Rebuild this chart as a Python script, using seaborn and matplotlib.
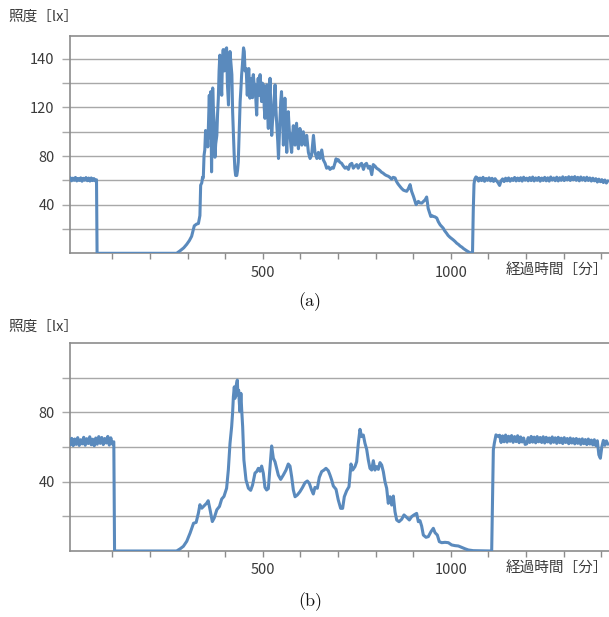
import numpy as np
import pandas as pd
import matplotlib
matplotlib.use("Agg")
import matplotlib.pyplot as plt
import seaborn as sns

# ---------------- data (a) ----------------
A_START_X = [-12, -8.5, -5, -1.5, 2, 5.5, 9, 12.5, 16, 19.5, 23, 26.5, 30, 33.5, 37, 40.5, 44,
             47.5, 51, 54.5, 58]
A_START_Y = [62.2, 59.6, 61.8, 60.0, 62.4, 59.5, 61.6, 59.9, 62.1, 59.3, 61.7, 60.1, 62.3, 59.7,
             61.9, 59.4, 62.0, 59.8, 61.5, 59.6, 60.5]

A_DAY_X = [59.5, 271, 280, 290, 298, 305, 311, 315, 318, 324, 329, 333, 335, 338, 340, 342, 344, 346,
           348, 350, 352, 354, 356, 358, 360, 362, 364, 366, 367, 369, 371, 373, 375, 378, 380, 382,
           384, 386, 388, 391, 393, 395, 398, 400, 402, 404, 406, 409, 411, 413, 415, 418, 420, 422,
           424, 426, 428, 431, 433, 435, 437, 440, 442, 444, 446, 449, 451, 453, 456, 459, 461, 463,
           466, 468, 471, 473, 475, 477, 480, 482, 484, 486, 488, 491, 493, 495, 497, 499, 502, 504,
           506, 508, 511, 513, 515, 517, 519.5, 522, 524, 526, 528, 530, 533, 535, 537, 540, 542, 544,
           546, 548, 550, 553, 555, 557, 559, 561, 564, 566, 568, 571, 573, 575, 577, 579, 581.5, 584,
           586, 588, 590, 592, 595, 597, 599, 602, 604, 608, 613, 617, 621.5, 626, 630, 635, 639, 644,
           648, 652, 657, 661, 666, 670, 675, 679, 684, 688, 692, 695, 698, 701, 705, 710, 714, 719,
           723, 728, 732, 737, 741, 745, 750, 754, 759, 763, 768, 772, 776, 781, 785, 790, 794, 799,
           803, 808, 812, 816, 820, 825, 829, 834, 838, 843, 847, 852, 856, 860, 865, 869, 874, 878,
           883, 887, 892, 896, 901, 905, 908, 911, 914, 918, 923, 927, 932, 936, 938, 940, 944, 947,
           950, 954, 958, 963, 967, 972, 976, 980, 984, 989, 993, 998, 1003, 1007, 1012, 1016, 1021,
           1025, 1030, 1034, 1038, 1042, 1047, 1051, 1056, 1058, 1060, 1062, 1064, 1067]
A_DAY_Y = [0, 0, 2, 4.5, 7.4, 10.5, 14, 19, 22.6, 24, 24.5, 31, 56, 58, 62.6, 62, 80.6, 85,
           101, 92, 100, 87.5, 110, 130, 95, 133, 67, 110, 136, 118, 108, 79, 90, 97, 115, 127.6,
           150, 163, 145, 130, 160, 167.6, 150, 155, 168, 169, 140, 122, 150, 166, 158, 147, 116.5, 100,
           82, 69.6, 64, 64, 68, 75, 95, 124.8, 135, 147, 155, 169, 166, 150, 152, 130, 145, 152,
           127.6, 140, 144, 128, 147, 140, 138.6, 125, 113.7, 135, 144, 130, 147, 135, 124.8, 140, 138.6, 120,
           111, 130, 138.6, 115, 102.7, 125, 144, 115, 97, 108, 113.7, 125, 138.6, 120, 108, 92, 78, 95,
           111, 125, 133, 110, 89, 105, 127.6, 105, 83, 100, 116.5, 100, 97, 88, 83, 95, 105, 95,
           89, 100, 107, 95, 86, 95, 102.7, 95, 89, 100, 89, 97, 83, 78, 80.6, 97, 83, 78,
           83, 78, 85, 77, 74, 70, 71, 69, 70.5, 70, 74, 77.7, 76, 77, 75, 74, 72, 70,
           71, 69, 73, 74, 70, 71.6, 73, 70, 73, 74, 69, 73, 74, 70, 71.6, 64.7, 73, 71.6,
           70, 69, 68, 66.7, 66, 64.7, 64, 63.4, 62.5, 61, 62.5, 62, 59, 57, 55, 53.5, 52, 51.5,
           51, 53, 56.5, 51, 46.8, 43, 40, 41.5, 42.7, 41.5, 41.3, 42.5, 44, 46.3, 42, 37, 33, 30.3,
           31, 30.3, 30, 29, 26, 23.4, 22, 20.7, 18.5, 16.5, 14.7, 13.2, 12, 11, 9.6, 8.3, 7.2,
           6, 5, 3.9, 3, 2.2, 1.3, 0.5, 0.3, 0.3, 35, 57, 61, 62.8]

A_END_X = [1070, 1074, 1078, 1082, 1086, 1090, 1094, 1098, 1102, 1106,
           1110, 1114, 1118, 1122, 1126, 1130, 1134, 1138, 1142, 1146,
           1150, 1154, 1158, 1162, 1166, 1170, 1174, 1178, 1182, 1186,
           1190, 1194, 1198, 1202, 1206, 1210, 1214, 1218, 1222, 1226,
           1230, 1234, 1238, 1242, 1246, 1250, 1254, 1258, 1262, 1266,
           1270, 1274, 1278, 1282, 1286, 1290, 1294, 1298, 1302, 1306,
           1310, 1314, 1318, 1322, 1326, 1330, 1334, 1338, 1342, 1346,
           1350, 1354, 1358, 1362, 1366, 1370, 1374, 1378, 1382, 1386,
           1390, 1394, 1398, 1402, 1406, 1410, 1414, 1418]
A_END_Y = [62.3, 59.4, 61.9, 59.8, 62.5, 59.2, 61.6, 60.0, 62.1, 59.5,
           61.7, 59.1, 61.4, 59.6, 58.0, 55.8, 59.6, 61.2, 59.0, 61.8,
           59.6, 62.0, 59.3, 61.5, 59.9, 62.4, 59.5, 61.9, 59.7, 62.2,
           59.4, 62.6, 60.1, 61.8, 59.6, 62.3, 59.8, 62.7, 59.5, 62.0,
           60.0, 62.4, 59.3, 61.9, 59.9, 62.5, 59.6, 62.1, 59.4, 62.8,
           60.2, 62.0, 59.7, 62.6, 59.5, 62.2, 60.0, 62.9, 59.8, 62.4,
           60.3, 63.0, 59.9, 62.7, 60.4, 63.1, 60.0, 62.5, 59.6, 62.8,
           60.2, 62.3, 59.7, 62.6, 59.9, 62.0, 59.4, 61.8, 59.6, 61.4,
           58.6, 61.0, 58.9, 60.6, 58.2, 60.3, 57.8, 59.6]

# ---------------- data (b) ----------------
B_START_X = [-12, -8, -4, 0, 4, 8, 12, 16, 20, 24,
             28, 32, 36, 40, 44, 48, 52, 56, 60, 64,
             68, 72, 76, 80, 84, 88, 92, 96, 100, 104]
B_START_Y = [61.2, 65.0, 60.8, 64.6, 61.5, 65.4, 60.9, 64.2, 61.8, 65.6,
             61.0, 64.8, 62.0, 65.9, 61.3, 64.5, 60.7, 65.2, 61.6, 66.0,
             62.1, 65.5, 61.4, 64.9, 62.3, 66.1, 61.1, 65.3, 61.7, 63.0]

B_DAY_X = [106, 271, 280, 289, 298, 307, 316, 323, 329, 333, 338, 344, 351, 355, 360, 366, 371, 378,
           385, 391, 397, 404, 408.6, 413, 417.4, 420, 422, 424.5, 426, 428, 430, 432.5, 434, 436,
           438, 439.6, 442, 444, 446.7, 450, 455.6, 462, 468, 473, 479.5, 484, 488.4, 492.8, 497.2,
           501.7, 506, 510.5, 515, 519.4, 523.8, 528.3, 532.7, 537, 541.5, 547.8, 554.8, 562, 568,
           572.6, 577, 581.5, 586, 592, 599, 606, 612.5, 618.7, 624, 630, 634.6, 639, 645.3, 650.6,
           656.8, 663, 668.3, 674.5, 679, 683.4, 687.8, 695, 701, 707.3, 712.6, 717, 723.3, 729.5,
           734.8, 739.2, 745.4, 749.9, 754.3, 758.7, 763.2, 767.6, 772, 776.5, 780.9, 785.3, 789.8,
           794.2, 798.6, 803, 807.5, 811.9, 816.4, 820.8, 825.2, 829.7, 834, 838.5, 843, 847.4, 851.8,
           856.3, 862.5, 869.6, 875.8, 882.9, 890, 896, 902.3, 909.4, 913.9, 918.3, 922.7, 927.2,
           934.3, 940.5, 947.6, 953.8, 958.2, 964.4, 969.7, 976, 984.8, 993.7, 1002.5, 1011.4, 1020.3,
           1029.1, 1038, 1046.9, 1060, 1109, 1112, 1113.4, 1116, 1120.4, 1126.6]
B_DAY_Y = [0, 0, 1.2, 2.7, 5.6, 10.4, 16, 16.5, 21.9, 26.7, 24.7, 26, 27.6, 29, 23.8, 17, 19, 23.8,
           25.7, 30, 31.5, 36.2, 46.8, 62, 71.7, 80, 89, 94.7, 88, 91, 96, 98.6, 90, 92.8,
           85, 80.4, 91, 82, 71.7, 52.5, 41, 36.2, 35, 38, 45, 45.8, 47.7, 46, 49,
           44.8, 36.7, 35.2, 36, 48.7, 60.6, 53.5, 51.5, 47.7, 43.8, 41.3, 43.8, 46.7, 50.2,
           49, 42.9, 35.2, 31.3, 32.3, 34.2, 36.7, 39.4, 40.4, 39, 35.2, 32.9, 36.7, 36.2, 42.5,
           45.8, 46.7, 47.7, 46.3, 43.8, 41, 37.5, 35.6, 29.4, 24.6, 24.6, 31.3, 34.8, 37.1,
           50.2, 46.7, 48.7, 51.5, 62.1, 70.2, 66, 66.9, 62.1, 58.7, 52.5, 47.7, 46.7,
           52.1, 46.7, 48.7, 47.1, 51, 49.6, 45.8, 40, 36.2, 27.5, 31.3, 26.5, 31.7, 22.7,
           17.9, 16.9, 18.3, 20.8, 19.4, 17.9, 19.8, 20.8, 21.7, 16.9, 17.5, 14.4, 9.2,
           7.9, 8.3, 11.2, 13.1, 10.6, 9.2, 5.4, 4.8, 5, 4.8, 3.5, 3.1, 2.9,
           2.1, 1.3, 0.6, 0.2, 0, 40, 58.3, 62.1, 67, 66]

B_END_X = [1130, 1134, 1138, 1142, 1146, 1150, 1154, 1158, 1162, 1166,
           1170, 1174, 1178, 1182, 1186, 1190, 1194, 1198, 1202, 1206,
           1210, 1214, 1218, 1222, 1226, 1230, 1234, 1238, 1242, 1246,
           1250, 1254, 1258, 1262, 1266, 1270, 1274, 1278, 1282, 1286,
           1290, 1294, 1298, 1302, 1306, 1310, 1314, 1318, 1322, 1326,
           1330, 1334, 1338, 1342, 1346, 1350, 1354, 1358, 1362, 1366,
           1370, 1374, 1378, 1382, 1386, 1390, 1394, 1398, 1402, 1406,
           1410, 1414, 1418]
B_END_Y = [66.8, 62.6, 66.4, 63.0, 66.9, 62.8, 66.2, 63.3, 66.6, 62.7,
           66.0, 63.1, 66.5, 62.5, 65.8, 62.9, 65.2, 61.5, 61.8, 65.4,
           62.6, 66.1, 62.8, 65.7, 62.4, 66.0, 63.0, 65.5, 62.6, 65.9,
           62.3, 65.6, 62.9, 65.2, 62.2, 65.8, 62.7, 65.3, 62.1, 65.6,
           62.5, 65.1, 62.0, 65.4, 62.6, 64.9, 61.9, 65.2, 62.3, 64.8,
           61.8, 64.9, 62.1, 64.5, 61.5, 64.7, 61.9, 64.3, 61.4, 64.6,
           61.7, 64.0, 61.2, 64.2, 60.8, 63.6, 55.5, 53.5, 60.2, 63.8,
           61.0, 63.5, 61.6]

# axis texts / ticks
Y_LABEL = "照度［lx］"
X_LABEL = "経過時間［分］"
X_TICKS = [100, 200, 300, 400, 500, 600, 700, 800, 900, 1000, 1100, 1200, 1300, 1400]
X_TICK_LABELS = ["", "", "", "", "500", "", "", "", "", "1000", "", "", "", ""]
A_Y_TICKS = [20, 40, 60, 80, 100, 120, 140, 160]
A_Y_TICK_LABELS = ["", "40", "", "80", "", "120", "", "140"]
B_Y_TICKS = [20, 40, 60, 80, 100]
B_Y_TICK_LABELS = ["", "40", "", "80", ""]
PANEL_LABELS = ["(a)", "(b)"]

# ---------------- style ----------------
sns.set_style("white")
plt.rcParams['font.family'] = ['Noto Sans CJK JP', 'DejaVu Sans']

LINE = "#5a8abd"
GRID = "#a8a8a8"
SPINE = "#8c8c8c"
TXT = "#3a3a3a"

W, H = 609, 617
fig = plt.figure(figsize=(W / 100, H / 100), dpi=100)


def px_axes(left, top, right, bottom):
    return fig.add_axes([left / W, 1 - bottom / H, (right - left) / W, (bottom - top) / H])


ax_a = px_axes(70, 35.7, 609, 253.3)
ax_b = px_axes(70, 343, 609, 551)

df_a = pd.DataFrame({"t": A_START_X + A_DAY_X + A_END_X, "lx": A_START_Y + A_DAY_Y + A_END_Y})
df_b = pd.DataFrame({"t": B_START_X + B_DAY_X + B_END_X, "lx": B_START_Y + B_DAY_Y + B_END_Y})

for ax, df, ylim, yt, ytl in [(ax_a, df_a, 179, A_Y_TICKS, A_Y_TICK_LABELS),
                              (ax_b, df_b, 120, B_Y_TICKS, B_Y_TICK_LABELS)]:
    sns.lineplot(data=df, x="t", y="lx", ax=ax, color=LINE, linewidth=2.2,
                 estimator=None, sort=False, zorder=3)
    ax.set_xlim(-12.5, 1421)
    ax.set_ylim(0, ylim)
    ax.set_axisbelow(True)
    ax.set_xlabel("")
    ax.set_ylabel("")
    ax.set_yticks(yt)
    ax.set_yticklabels(ytl)
    ax.set_xticks(X_TICKS)
    ax.set_xticklabels(X_TICK_LABELS)
    ax.grid(axis="y", color=GRID, linewidth=1.0)
    ax.grid(axis="x", visible=False)
    ax.spines["right"].set_visible(False)
    for s in ["left", "top", "bottom"]:
        ax.spines[s].set_color(SPINE)
        ax.spines[s].set_linewidth(1.2)
    ax.tick_params(axis="y", direction="out", length=6, width=1.0, color=GRID,
                   pad=5, labelsize=10.5, labelcolor=TXT, left=True)
    ax.tick_params(axis="x", direction="out", length=4, width=1.0, color=SPINE,
                   pad=5, labelsize=10.5, labelcolor=TXT, bottom=True)
    ax.set_facecolor("white")

# text labels
fig.text(8 / W, 1 - 17 / H, Y_LABEL, ha="left", va="center", fontsize=10.5, color=TXT)
fig.text(8 / W, 1 - 327 / H, Y_LABEL, ha="left", va="center", fontsize=10.5, color=TXT)
fig.text(608 / W, 1 - 270 / H, X_LABEL, ha="right", va="center", fontsize=10.5, color=TXT)
fig.text(608 / W, 1 - 568 / H, X_LABEL, ha="right", va="center", fontsize=10.5, color=TXT)
fig.text(310 / W, 1 - 302 / H, PANEL_LABELS[0], ha="center", va="center", fontsize=13,
         family="cmr10", color="#111111")
fig.text(310 / W, 1 - 602 / H, PANEL_LABELS[1], ha="center", va="center", fontsize=13,
         family="cmr10", color="#111111")

fig.savefig("out.png", dpi=100, facecolor="white")
